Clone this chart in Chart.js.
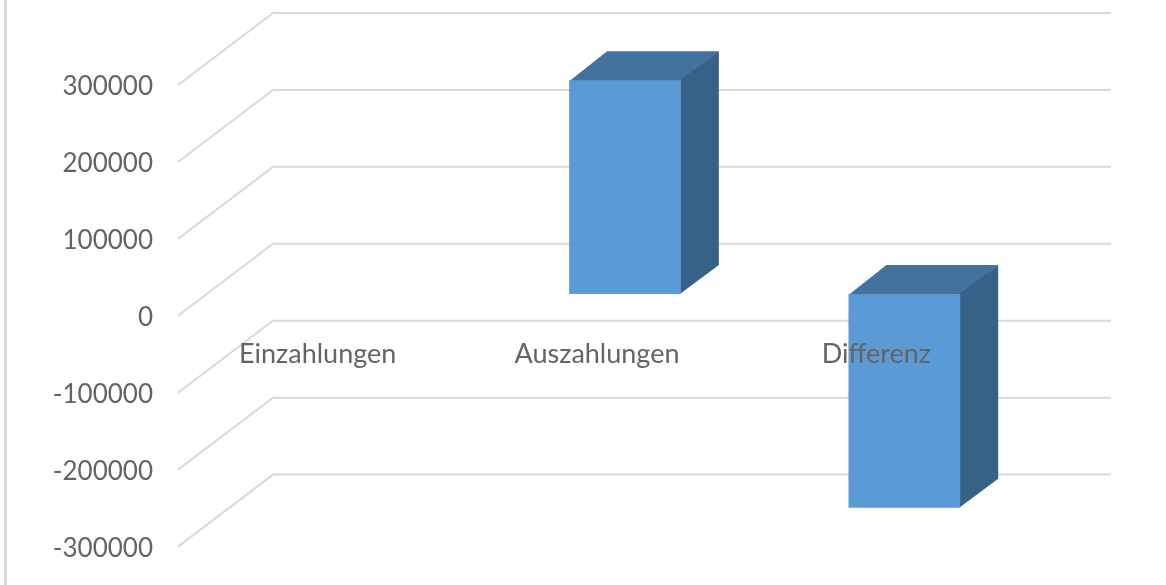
<!DOCTYPE html>
<html>
<head>
<meta charset="utf-8">
<style>html,body{margin:0;padding:0;background:#fff}canvas{display:block}</style>
<script src="https://cdn.jsdelivr.net/npm/chart.js@4"></script>
</head>
<body>
<canvas id="c" width="1166" height="585"></canvas>
<script>
const categories = ["Einzahlungen", "Auszahlungen", "Differenz"];
const seriesValues = [0, 278000, -278000];
const yTicks = { min: -300000, max: 300000, step: 100000 };

const colors = { front: "#5b9bd5", top: "#43729f", side: "#376186", grid: "#d9d9d9", text: "#646464" };
const wallDepth = { dx: 95, dy: -72 };
const barOffset = { dx: 28, dy: -21.8 };
const barDepth = { dx: 38, dy: -29 };
const yLabelShift = 2;
const plotBottom = 546.6;

const depthPlugin = {
  id: "depth",
  afterLayout(chart) {
    const y = chart.scales.y;
    y.bottom = plotBottom;
    y.height = plotBottom - y.top;
    y.configure();
    chart.chartArea.bottom = plotBottom;
    chart.chartArea.height = plotBottom - chart.chartArea.top;
    if (y.__shifted) return;
    const draw = y.drawLabels;
    y.drawLabels = function (area) {
      const c = this.ctx;
      c.save();
      c.translate(0, yLabelShift);
      draw.call(this, area);
      c.restore();
    };
    y.__shifted = true;
  },
  beforeDraw(chart) {
    const { ctx, chartArea, scales } = chart;
    ctx.save();
    ctx.strokeStyle = colors.grid;
    ctx.lineWidth = 3;
    ctx.beginPath(); ctx.moveTo(5.5, 0); ctx.lineTo(5.5, 585); ctx.stroke();
    const y = scales.y;
    y.ticks.forEach(t => {
      const py = y.getPixelForValue(t.value);
      ctx.lineWidth = 2;
      ctx.beginPath();
      ctx.moveTo(chartArea.left, py);
      ctx.lineTo(chartArea.left + wallDepth.dx, py + wallDepth.dy);
      ctx.lineTo(chartArea.right + wallDepth.dx, py + wallDepth.dy);
      ctx.stroke();
    });
    ctx.restore();
  },
  beforeDatasetDraw(chart, args) {
    const { ctx } = chart;
    ctx.save();
    ctx.translate(barOffset.dx, barOffset.dy);
    const d = barDepth;
    args.meta.data.forEach(bar => {
      const h = Math.abs(bar.base - bar.y);
      if (h < 1) return;
      const l = bar.x - bar.width / 2, r = bar.x + bar.width / 2;
      const t = Math.min(bar.y, bar.base), b = Math.max(bar.y, bar.base);
      ctx.fillStyle = colors.top;
      ctx.beginPath();
      ctx.moveTo(l, t + 1); ctx.lineTo(l + d.dx, t + d.dy); ctx.lineTo(r + d.dx, t + d.dy); ctx.lineTo(r, t + 1);
      ctx.closePath(); ctx.fill();
      ctx.fillStyle = colors.side;
      ctx.beginPath();
      ctx.moveTo(r - 1, t); ctx.lineTo(r + d.dx, t + d.dy); ctx.lineTo(r + d.dx, b + d.dy); ctx.lineTo(r - 1, b);
      ctx.closePath(); ctx.fill();
    });
  },
  afterDatasetDraw(chart) {
    chart.ctx.restore();
  }
};

new Chart(document.getElementById("c"), {
  type: "bar",
  data: {
    labels: categories,
    datasets: [{
      data: seriesValues,
      backgroundColor: colors.front,
      borderWidth: 0,
      categoryPercentage: 1,
      barPercentage: 0.4
    }]
  },
  options: {
    responsive: false,
    animation: false,
    layout: { padding: { top: 85, bottom: 38.4, left: 0, right: 150 } },
    plugins: { legend: { display: false }, title: { display: false }, tooltip: { enabled: false } },
    scales: {
      x: {
        position: { y: 0 },
        grid: { display: false, drawTicks: false },
        border: { display: false },
        afterFit(s) { s.height = 0; },
        ticks: {
          z: 1,
          padding: 22,
          maxRotation: 0,
          autoSkip: false,
          color: colors.text,
          font: { family: "Lato", size: 27 }
        }
      },
      y: {
        min: yTicks.min,
        max: yTicks.max,
        grid: { display: false, drawTicks: false },
        border: { display: false },
        afterFit(s) { s.width = 178; },
        ticks: {
          stepSize: yTicks.step,
          padding: 25,
          color: colors.text,
          font: { family: "Lato", size: 26 },
          callback: v => String(v)
        }
      }
    }
  },
  plugins: [depthPlugin]
});
</script>
</body>
</html>
